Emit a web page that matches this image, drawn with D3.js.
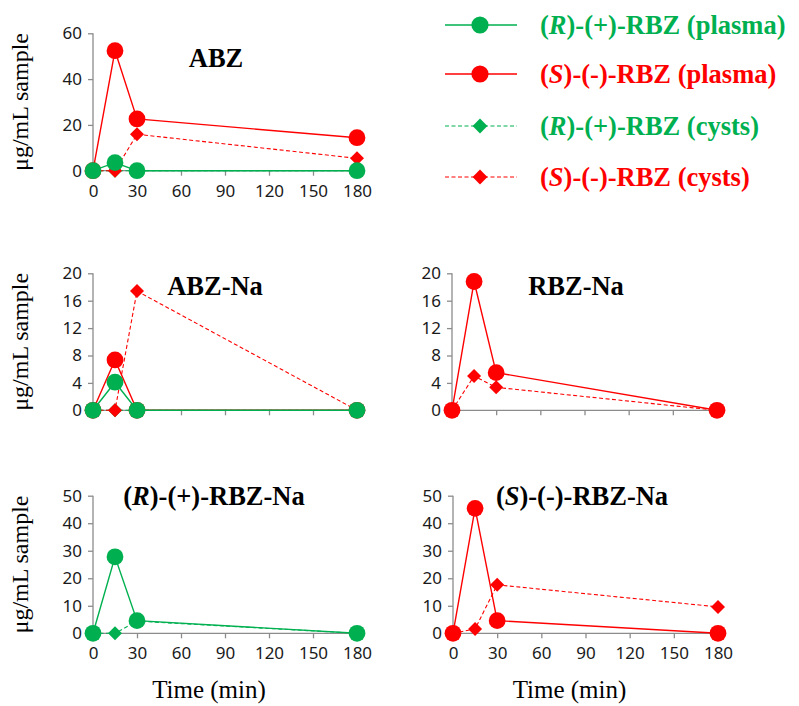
<!DOCTYPE html>
<html><head><meta charset="utf-8">
<script src="https://cdn.jsdelivr.net/npm/d3@7"></script>
<style>body{margin:0;background:#fff}</style>
</head><body>
<svg id="chart" width="799" height="706"></svg>
<script>
// ---- data ----
const times = [0, 15, 30, 180];
const xTicks = [0, 30, 60, 90, 120, 150, 180];
const yTicksABZ = [0, 20, 40, 60];
const yTicksNa = [0, 4, 8, 12, 16, 20];
const yTicksEnant = [0, 10, 20, 30, 40, 50];

const abzRPlasma = [0, 3.5, 0, 0];
const abzSPlasma = [0, 52.4, 22.6, 14.4];
const abzRCysts = [0, 0, 0, 0];
const abzSCysts = [0, 0, 15.9, 5.4];

const abzNaRPlasma = [0, 4.1, 0, 0];
const abzNaSPlasma = [0, 7.35, 0, 0];
const abzNaRCysts = [0, 0, 0, 0];
const abzNaSCysts = [0, 0, 17.4, 0];

const rbzNaSPlasma = [0, 18.8, 5.5, 0];
const rbzNaSCysts = [0, 5.0, 3.35, 0];

const rRbzNaRPlasma = [0, 27.8, 4.6, 0];
const rRbzNaRCysts = [0, 0, 4.4, 0];

const sRbzNaSPlasma = [0, 45.4, 4.6, 0];
const sRbzNaSCysts = [0, 1.6, 17.6, 9.6];

const seriesNames = ["(R)-(+)-RBZ (plasma)", "(S)-(-)-RBZ (plasma)", "(R)-(+)-RBZ (cysts)", "(S)-(-)-RBZ (cysts)"];
const yLabel = "μg/mL sample";
const xLabel = "Time (min)";

// ---- styles ----
const GREEN = "#00B050", RED = "#FF0000", AXIS = "#8c8c8c";
const SERIF = "'Liberation Serif', 'Times New Roman', serif";
const SANS = "'Noto Sans', sans-serif";
const styles = {
  rPlasma: {color: GREEN, dash: null, marker: "circle"},
  sPlasma: {color: RED, dash: null, marker: "circle"},
  rCysts: {color: GREEN, dash: "4,2.5", marker: "diamond"},
  sCysts: {color: RED, dash: "4,2.5", marker: "diamond"}
};

const svg = d3.select("#chart");

function panel(cfg) {
  const x = d3.scaleLinear().domain([0, 180]).range([cfg.x0, cfg.x1]);
  const y = d3.scaleLinear().domain([0, cfg.yMax]).range([cfg.yBot, cfg.yTop]);
  const g = svg.append("g");

  // y axis
  const ya = g.append("g").attr("transform", `translate(${cfg.x0},0)`)
    .call(d3.axisLeft(y).tickValues(cfg.yTicks).tickSize(5).tickPadding(6).tickFormat(d3.format("d")));
  ya.select(".domain").attr("stroke", AXIS).attr("stroke-width", 1.3).attr("d", `M0,${cfg.yTop}V${cfg.yBot}`);
  ya.selectAll(".tick line").attr("stroke", AXIS).attr("stroke-width", 1.3);
  ya.selectAll(".tick text").attr("font-family", SANS).attr("font-size", 17).attr("fill", "#1a1a1a");

  // x axis
  const xa = g.append("g").attr("transform", `translate(0,${cfg.yBot})`)
    .call(d3.axisBottom(x).tickValues(xTicks).tickSize(5).tickPadding(9).tickFormat(cfg.xLabels ? d3.format("d") : ""));
  xa.select(".domain").attr("stroke", AXIS).attr("stroke-width", 1.3).attr("d", `M${cfg.x0},0H${cfg.x1}`);
  xa.selectAll(".tick line").attr("stroke", AXIS).attr("stroke-width", 1.3);
  xa.selectAll(".tick text").attr("font-family", SANS).attr("font-size", 17).attr("fill", "#1a1a1a");

  const line = d3.line().x((d, i) => x(times[i])).y(d => y(d));
  const order = ["rCysts", "sCysts", "sPlasma", "rPlasma"];
  order.forEach(key => {
    const vals = cfg.series[key];
    if (!vals) return;
    const st = styles[key];
    g.append("path").datum(vals).attr("d", line).attr("fill", "none")
      .attr("stroke", st.color).attr("stroke-width", st.dash ? 1.1 : 1.4)
      .attr("stroke-dasharray", st.dash);
    const sym = st.marker === "circle" ? d3.symbolCircle : d3.symbolDiamond2;
    const size = st.marker === "circle" ? Math.PI * 8.4 * 8.4 : 125;
    g.selectAll(null).data(vals).enter().append("path")
      .attr("d", d3.symbol().type(sym).size(size))
      .attr("transform", (d, i) => `translate(${x(times[i])},${y(d)})`)
      .attr("fill", st.color);
  });

  // title
  const t = g.append("text").attr("x", cfg.titleX).attr("y", cfg.titleY).attr("text-anchor", "middle")
    .attr("font-family", SERIF).attr("font-weight", "bold").attr("font-size", 26.5).attr("fill", "#000");
  cfg.title.forEach(p => t.append("tspan").text(p.t).attr("font-style", p.i ? "italic" : null));

  if (cfg.yLabel) {
    g.append("text").attr("transform", `translate(${cfg.x0 - 65},${(cfg.yTop + cfg.yBot) / 2}) rotate(-90)`)
      .attr("text-anchor", "middle").attr("font-family", SERIF).attr("font-size", 24).attr("fill", "#000").text(yLabel);
  }
  if (cfg.xTitle) {
    g.append("text").attr("x", (cfg.x0 + cfg.x1) / 2 - 16).attr("y", cfg.yBot + 65).attr("text-anchor", "middle")
      .attr("font-family", SERIF).attr("font-size", 25).attr("fill", "#000").text(xLabel);
  }
}

panel({x0: 93, x1: 357, yTop: 33.3, yBot: 170.7, yMax: 60, yTicks: yTicksABZ, xLabels: true,
  series: {rPlasma: abzRPlasma, sPlasma: abzSPlasma, rCysts: abzRCysts, sCysts: abzSCysts},
  title: [{t: "ABZ"}], titleX: 216, titleY: 67, yLabel: true});
panel({x0: 93, x1: 357, yTop: 273.3, yBot: 410.3, yMax: 20, yTicks: yTicksNa, xLabels: false,
  series: {rPlasma: abzNaRPlasma, sPlasma: abzNaSPlasma, rCysts: abzNaRCysts, sCysts: abzNaSCysts},
  title: [{t: "ABZ-Na"}], titleX: 215, titleY: 295, yLabel: true});
panel({x0: 452, x1: 717, yTop: 273.3, yBot: 410.3, yMax: 20, yTicks: yTicksNa, xLabels: false,
  series: {sPlasma: rbzNaSPlasma, sCysts: rbzNaSCysts},
  title: [{t: "RBZ-Na"}], titleX: 576, titleY: 295});
panel({x0: 93, x1: 357, yTop: 495.7, yBot: 633.3, yMax: 50, yTicks: yTicksEnant, xLabels: true,
  series: {rPlasma: rRbzNaRPlasma, rCysts: rRbzNaRCysts},
  title: [{t: "("}, {t: "R", i: true}, {t: ")-(+)-RBZ-Na"}], titleX: 214, titleY: 505, yLabel: true, xTitle: true});
panel({x0: 453, x1: 718, yTop: 495.7, yBot: 633.3, yMax: 50, yTicks: yTicksEnant, xLabels: true,
  series: {sPlasma: sRbzNaSPlasma, sCysts: sRbzNaSCysts},
  title: [{t: "("}, {t: "S", i: true}, {t: ")-(-)-RBZ-Na"}], titleX: 582, titleY: 505, xTitle: true});

// legend
const legKeys = ["rPlasma", "sPlasma", "rCysts", "sCysts"];
const legY = [25, 74, 126, 177];
const leg = svg.append("g");
legKeys.forEach((k, i) => {
  const st = styles[k];
  const yy = legY[i];
  leg.append("line").attr("x1", 445).attr("x2", 517).attr("y1", yy).attr("y2", yy)
    .attr("stroke", st.color).attr("stroke-width", st.dash ? 1.2 : 1.4).attr("stroke-dasharray", st.dash);
  leg.append("path").attr("d", d3.symbol().type(st.marker === "circle" ? d3.symbolCircle : d3.symbolDiamond2)
      .size(st.marker === "circle" ? Math.PI * 8.6 * 8.6 : 140))
    .attr("transform", `translate(480,${yy})`).attr("fill", st.color);
  const name = seriesNames[i];
  const m = name.match(/^\((.)\)(.*)$/);
  const t = leg.append("text").attr("x", 540).attr("y", yy + 8.5)
    .attr("font-family", SERIF).attr("font-weight", "bold").attr("font-size", 26.5).attr("fill", st.color);
  t.append("tspan").text("(");
  t.append("tspan").text(m[1]).attr("font-style", "italic");
  t.append("tspan").text(")" + m[2]);
});
</script>
</body></html>
